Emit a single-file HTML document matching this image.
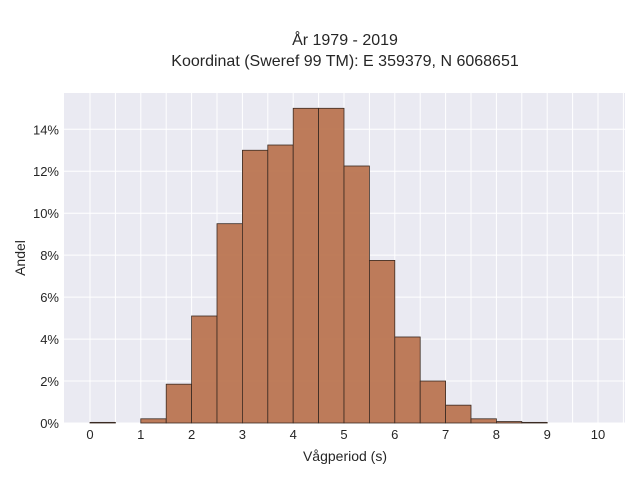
<!DOCTYPE html>
<html><head><meta charset="utf-8"><style>
body{margin:0;background:#fff;}
svg{display:block;font-family:"Liberation Sans",sans-serif;}
</style></head><body>
<svg id="chart" width="640" height="480">
<text x="345" y="45" text-anchor="middle" font-size="16" fill="#262626">År 1979 - 2019</text>
<text x="345" y="66" text-anchor="middle" font-size="16" fill="#262626">Koordinat (Sweref 99 TM): E 359379, N 6068651</text>
<rect x="64" y="93" width="561" height="330" fill="#eaeaf2"/>
<g id="grid"></g><g id="bars"></g><g id="ticks"></g>
<text x="345" y="461" text-anchor="middle" font-size="14" fill="#262626">Vågperiod (s)</text>
<text transform="translate(25,258) rotate(-90)" text-anchor="middle" font-size="14" fill="#262626">Andel</text>
</svg>
<script>
const binStarts=[0,0.5,1,1.5,2,2.5,3,3.5,4,4.5,5,5.5,6,6.5,7,7.5,8,8.5];
const shares=[0.03,0,0.2,1.85,5.1,9.5,13.0,13.25,15.0,15.0,12.25,7.75,4.1,2.0,0.85,0.2,0.07,0.03];
const xTicks=[0,1,2,3,4,5,6,7,8,9,10];
const yTicks=[0,2,4,6,8,10,12,14];
const binWidth=0.5;
const X=v=>90+v*50.8, Y=v=>423-v*20.98;
const NS="http://www.w3.org/2000/svg";
const g=document.getElementById('grid'),b=document.getElementById('bars'),t=document.getElementById('ticks');
function mk(tag,attrs,parent){const e=document.createElementNS(NS,tag);for(const k in attrs)e.setAttribute(k,attrs[k]);parent.appendChild(e);return e;}
for(let v=0;v<=10.5;v+=0.5){const l=mk('line',{x1:X(v),x2:X(v),y1:93,y2:423,stroke:'#fff','stroke-width':1},g);

}
yTicks.forEach(v=>{const l=mk('line',{x1:64,x2:625,y1:Y(v),y2:Y(v),stroke:'#fff','stroke-width':1},g);


const tx=mk('text',{x:59,y:Y(v)+5,'text-anchor':'end','font-size':13,fill:'#262626'},t);tx.textContent=v+'%';

});
xTicks.forEach(v=>{const tx=mk('text',{x:X(v),y:439,'text-anchor':'middle','font-size':13,fill:'#262626'},t);tx.textContent=v;

});
binStarts.forEach((s,i)=>{const h=shares[i];const r=mk('rect',{x:X(s),y:Y(h),width:X(s+binWidth)-X(s),height:Y(0)-Y(h),fill:'#bb7551','fill-opacity':0.95,stroke:'#3a2a22','stroke-width':0.8},b);

});
</script>
</body></html>
